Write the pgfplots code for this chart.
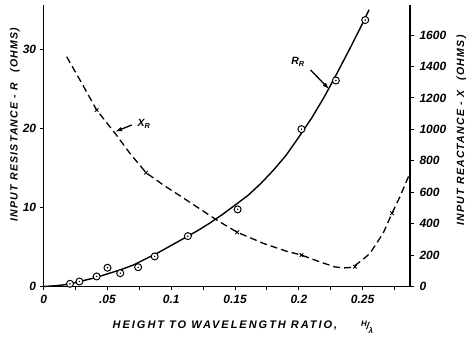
\documentclass[border=0pt]{standalone}
\usepackage{fontspec}
\setmainfont{Liberation Sans}
\usepackage{pgfplots}
\pgfplotsset{compat=1.18}
\usetikzlibrary{arrows.meta}

\begin{document}
\begin{tikzpicture}[font=\bfseries\itshape]
\begin{axis}[
  name=ax1, at={(0,0)}, anchor=south west,
  scale only axis, width=366.3pt, height=281.5pt,
  xmin=0, xmax=0.2871, ymin=0, ymax=35.6,
  axis x line*=bottom, axis y line*=left,
  axis line style={line width=1.6pt, -},
  xtick={0,0.05,0.1,0.15,0.2,0.25}, xticklabels={0,.05,0.1,0.15,0.2,0.25},
  minor xtick={0.025,0.075,0.125,0.175,0.225,0.275},
  ytick={0,10,20,30}, yticklabels={0,10,20,30},
  tick align=outside, major tick length=4pt, minor tick length=4pt,
  tick style={line width=1pt, black},
  ticklabel style={font=\fontsize{12}{13}\selectfont\bfseries\itshape},
  xticklabel style={yshift=-1pt},
  clip=false,
]
% fitted R curve
\addplot[black, line width=1.4pt] coordinates {
(0,0) (0.01,0.1) (0.02,0.3) (0.03,0.7) (0.04,1.1) (0.05,1.6) (0.06,2.1)
(0.07,2.7) (0.08,3.5) (0.09,4.3) (0.10,5.2) (0.11,6.1) (0.12,7.0) (0.13,8.0)
(0.14,9.1) (0.15,10.3) (0.16,11.5) (0.17,13.0) (0.18,14.7) (0.19,16.6)
(0.20,18.9) (0.21,21.3) (0.22,24.0) (0.23,27.0) (0.24,30.1) (0.25,33.3) (0.255,35.0)};
% measured R points
\addplot[only marks, mark=*, mark size=3.5pt, mark options={fill=white, draw=black, line width=1pt}] coordinates {
(0.0206,0.34) (0.028,0.63) (0.0415,1.27) (0.050,2.37) (0.060,1.68) (0.074,2.44)
(0.087,3.8) (0.113,6.37) (0.152,9.75) (0.202,19.9) (0.229,26.05) (0.252,33.7)};
\addplot[only marks, mark=*, mark size=0.5pt, black] coordinates {
(0.0206,0.34) (0.028,0.63) (0.0415,1.27) (0.050,2.37) (0.060,1.68) (0.074,2.44)
(0.087,3.8) (0.113,6.37) (0.152,9.75) (0.202,19.9) (0.229,26.05) (0.252,33.7)};
% annotations
\draw[-{Latex[length=7pt,width=4.5pt]}, line width=1.3pt] (axis cs:0.2092,27.38) -- (axis cs:0.2238,24.94);
\node[font=\fontsize{10.5}{11}\selectfont\bfseries\itshape] at (axis cs:0.1993,28.39) {R\textsubscript{R}};
\draw[-{Latex[length=7pt,width=4.5pt]}, line width=1.3pt] (axis cs:0.069,20.42) -- (axis cs:0.0559,19.58);
\node[font=\fontsize{10.5}{11}\selectfont\bfseries\itshape] at (axis cs:0.0786,20.55) {X\textsubscript{R}};
\end{axis}
\begin{axis}[
  name=ax2, at={(0,0)}, anchor=south west,
  scale only axis, width=366.3pt, height=281.5pt,
  xmin=0, xmax=0.2871, ymin=0, ymax=1791,
  axis x line=none, axis y line*=right,
  axis line style={line width=1.6pt, -},
  ytick={0,200,400,600,800,1000,1200,1400,1600},
  yticklabels={0,200,400,600,800,1000,1200,1400,1600},
  tick align=outside, major tick length=4pt,
  tick style={line width=1pt, black},
  ticklabel style={font=\fontsize{12}{13}\selectfont\bfseries\itshape},
  yticklabel style={xshift=2pt},
  clip=false,
]
\addplot[black, line width=1.3pt, dash pattern=on 7pt off 4pt] coordinates {
(0.018,1462) (0.0284,1314) (0.0415,1123) (0.0559,975) (0.0676,847) (0.0802,724)
(0.0937,646) (0.108,571) (0.1356,423) (0.1517,345) (0.172,275) (0.19,225)
(0.202,200) (0.216,158) (0.228,125) (0.235,118) (0.242,122) (0.25,170)
(0.2557,211) (0.266,338) (0.273,466) (0.2792,571) (0.287,720)};
\addplot[only marks, mark=x, mark size=2.5pt, black, line width=0.9pt] coordinates {
(0.0415,1123) (0.0802,724) (0.1517,345) (0.202,200) (0.244,126) (0.273,466)};
\end{axis}
\node[rotate=90, font=\fontsize{10.5}{12}\selectfont\bfseries\itshape\addfontfeature{LetterSpace=12}] at (-28.7pt,162pt) {INPUT RESISTANCE - R\quad(OHMS)};
\node[rotate=90, font=\fontsize{10.5}{12}\selectfont\bfseries\itshape\addfontfeature{LetterSpace=12}] at (417.8pt,156pt) {INPUT REACTANCE - X\quad(OHMS)};
\node[font=\fontsize{11}{12}\selectfont\bfseries\itshape\addfontfeature{LetterSpace=18}] at (181.3pt,-39.5pt) {HEIGHT TO WAVELENGTH RATIO,};
\node[font=\fontsize{10}{11}\selectfont\bfseries\itshape] at (323.3pt,-40.5pt) {\raisebox{3pt}{\fontsize{8}{8}\selectfont H}\kern-0.5pt/\kern-0.5pt\raisebox{-4pt}{\fontsize{8}{8}\selectfont λ}};
\pgfresetboundingbox
\useasboundingbox (-43.7pt,-52.5pt) rectangle (422.3pt,286.5pt);
\end{tikzpicture}
\end{document}
